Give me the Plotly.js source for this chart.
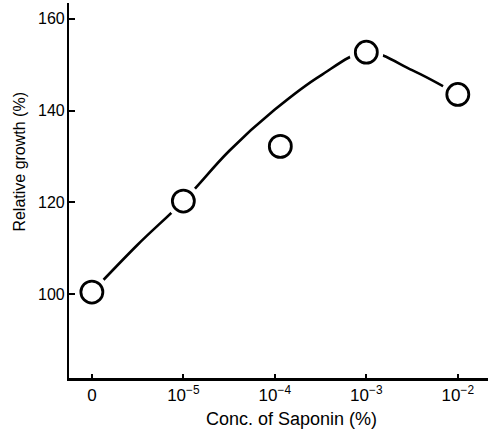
<!DOCTYPE html>
<html>
<head>
<meta charset="utf-8">
<script src="https://cdn.plot.ly/plotly-3.0.1.min.js"></script>
<style>html,body{margin:0;padding:0;background:#fff;}#chart{width:496px;height:433px;}</style>
</head>
<body>
<div id="chart"></div>
<script>
// Concentration categories (x positions on an evenly spaced log scale)
const tickPos = [0, 1, 2, 3, 4];
const tickLabels = ['0', '10<sup>\u22125</sup>', '10<sup>\u22124</sup>', '10<sup>\u22123</sup>', '10<sup>\u22122</sup>'];

// Observed relative growth (%)
const obsX = [0, 1, 2.06, 3, 4];
const obsY = [100.5, 120.3, 132.2, 152.7, 143.5];

// Fitted smooth curve
const curveX = [0, 0.5, 1, 1.5, 2, 2.5, 3, 3.5, 4];
const curveY = [100.5, 110.8, 120.3, 131.2, 140.2, 147.6, 152.7, 148.8, 143.5];

const yTicks = [100, 120, 140, 160];

const font = 'Liberation Sans, Arial, sans-serif';

const traces = [
  {x: curveX, y: curveY, mode: 'lines', line: {color: '#000', width: 2.6, shape: 'spline', smoothing: 1}, hoverinfo: 'skip'},
  {x: obsX, y: obsY, mode: 'markers', marker: {symbol: 'circle', size: 34, color: '#fff', line: {width: 0}}, hoverinfo: 'skip'},
  {x: obsX, y: obsY, mode: 'markers', marker: {symbol: 'circle', size: 22, color: '#fff', line: {color: '#000', width: 2.8}}}
];

const yTickAnn = yTicks.map(v => ({
  text: String(v), xref: 'paper', yref: 'y', x: 0, y: v,
  xanchor: 'right', yanchor: 'middle', xshift: -2, showarrow: false,
  font: {family: font, size: 16}
}));

const layout = {
  width: 496, height: 433,
  margin: {l: 69, r: 8, t: 3, b: 55},
  paper_bgcolor: '#fff', plot_bgcolor: '#fff',
  showlegend: false,
  font: {family: font, color: '#000', size: 16},
  xaxis: {
    range: [-0.25, 4.33],
    tickvals: tickPos, ticktext: tickLabels,
    ticks: 'inside', ticklen: 4, tickwidth: 2, tickcolor: '#000',
    showline: true, linecolor: '#000', linewidth: 2.5,
    showgrid: false, zeroline: false,
    tickfont: {family: font, size: 17},
    automargin: false
  },
  yaxis: {
    range: [81.8, 163.4],
    tickvals: yTicks, showticklabels: false,
    ticks: 'inside', ticklen: 6, tickwidth: 2, tickcolor: '#000',
    showline: true, linecolor: '#000', linewidth: 2.5,
    showgrid: false, zeroline: false,
    automargin: false
  },
  annotations: yTickAnn.concat([
    {
      text: 'Relative growth (%)', textangle: -90,
      xref: 'paper', yref: 'paper', x: -0.117, y: 0.577,
      xanchor: 'center', yanchor: 'middle', showarrow: false,
      font: {family: font, size: 16}
    },
    {
      text: 'Conc. of Saponin (%)',
      xref: 'paper', yref: 'paper', x: 0.532, y: -0.109,
      xanchor: 'center', yanchor: 'middle', showarrow: false,
      font: {family: font, size: 18}
    }
  ])
};

Plotly.newPlot('chart', traces, layout, {displayModeBar: false, staticPlot: true});
</script>
</body>
</html>
